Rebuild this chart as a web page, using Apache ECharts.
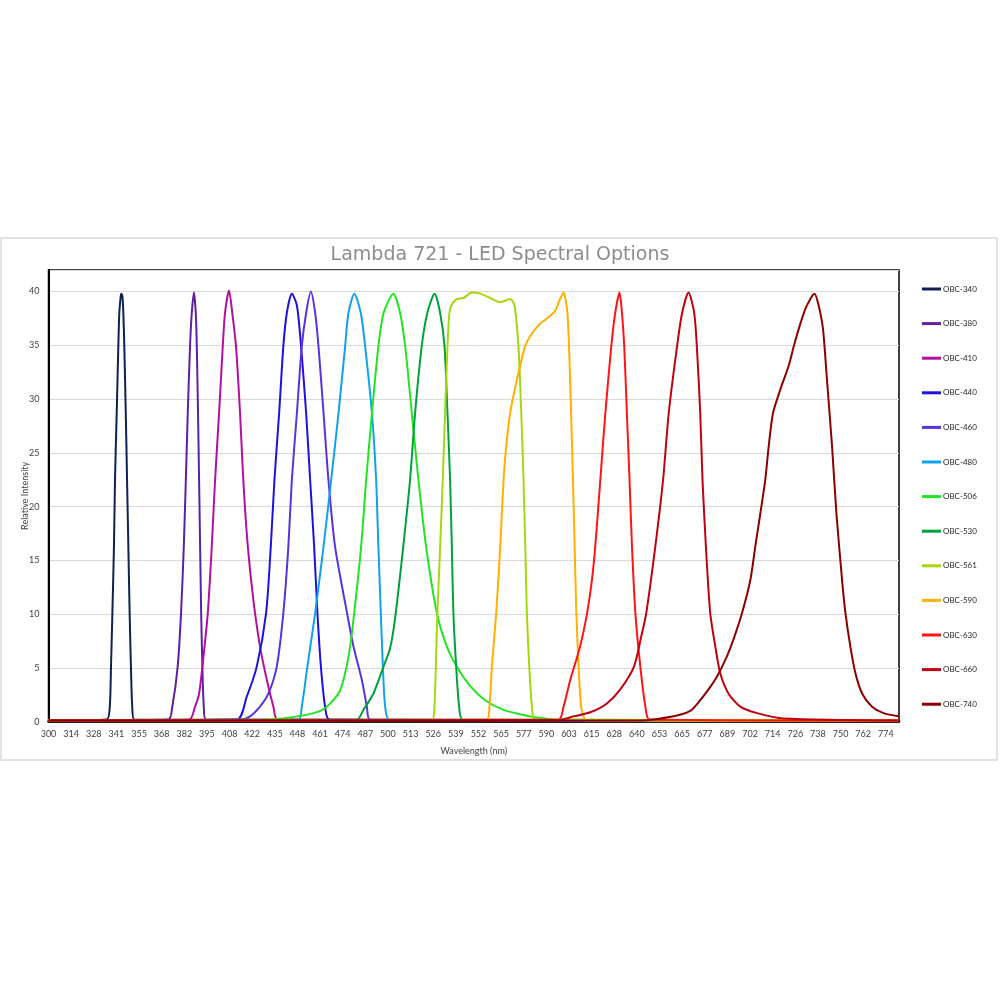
<!DOCTYPE html>
<html>
<head>
<meta charset="utf-8">
<script src="https://cdn.jsdelivr.net/npm/echarts@6/dist/echarts.min.js"></script>
<style>html,body{margin:0;padding:0;background:#fff}#c{width:1000px;height:1000px}</style>
</head>
<body>
<div id="c"></div>
<script>
// Tick labels of the wavelength axis (evenly spaced in the picture)
const tickLabels = [300,314,328,341,355,368,382,395,408,422,435,448,461,474,487,500,513,526,539,552,565,577,590,603,615,628,640,653,665,677,689,702,714,726,738,750,762,774];
const yTicks = [0,5,10,15,20,25,30,35,40];
const seriesNames = ['OBC-340','OBC-380','OBC-410','OBC-440','OBC-460','OBC-480','OBC-506','OBC-530','OBC-561','OBC-590','OBC-630','OBC-660','OBC-740'];
const seriesColors = ['#102050','#5f1f9f','#b0109f','#2010e0','#5a32dc','#0ea2e8','#22e422','#00a03c','#a6d60e','#ffb000','#ff1414','#c00010','#8b0000'];

// [wavelength nm, relative intensity]
const obc340 = [[300,0.1],[335.4,0.2],[337.2,1.4],[337.9,5.1],[338.7,10.1],[339.6,16.3],[340.2,22.5],[341.2,28.7],[342.2,34.9],[342.8,38.0],[343.7,39.6],[344.0,39.8],[344.7,39.6],[345.3,38.0],[345.9,34.9],[346.8,28.7],[347.6,22.5],[348.4,16.3],[349.2,10.1],[350.0,5.1],[350.8,1.4],[352.1,0.2],[781,0.1]];
const obc380 = [[300,0.1],[372.1,0.2],[374.6,1.4],[377.9,5.1],[380.0,10.1],[381.7,16.3],[382.9,22.5],[384.0,28.7],[385.3,34.9],[386.3,38.0],[387.6,39.9],[388.6,38.0],[389.2,34.9],[389.9,28.7],[390.5,22.5],[391.1,16.3],[391.7,10.1],[392.4,5.1],[393.2,1.4],[394.4,0.2],[781,0.1]];
const obc410 = [[300,0.1],[384.8,0.2],[388.2,1.4],[390.5,2.6],[392.4,5.1],[395.5,10.1],[397.8,16.3],[399.7,22.5],[402.0,28.7],[404.1,34.9],[405.4,38.0],[407.7,40.1],[409.7,38.0],[412.0,34.9],[414.5,28.7],[416.5,22.5],[419.3,16.3],[422.7,11.3],[426.5,7.0],[430.4,3.9],[434.2,1.4],[436.7,0.2],[781,0.1]];
const obc440 = [[300,0.1],[412.5,0.2],[418.6,2.3],[424.6,5.1],[430.0,10.1],[432.7,16.3],[434.8,22.5],[437.5,28.7],[439.9,34.9],[441.9,38.0],[444.8,39.8],[447.7,38.7],[450.1,34.9],[453.0,28.7],[455.3,22.5],[457.6,16.3],[459.5,10.1],[461.5,5.1],[463.9,1.4],[466.4,0.2],[781,0.1]];
const obc460 = [[300,0.1],[415,0.2],[420.7,0.5],[426.5,1.4],[431.3,2.6],[436.1,5.1],[439.9,10.1],[442.8,16.3],[444.8,22.5],[447.7,28.7],[450.5,34.9],[453.0,38.0],[455.7,40.0],[458.2,38.0],[460.1,34.9],[463.0,28.7],[465.8,22.5],[469.6,16.3],[476.5,10.1],[480.2,7.0],[485.0,3.9],[487.9,1.4],[489.8,0.2],[781,0.1]];
const obc480 = [[300,0.1],[448.5,0.2],[450.5,1.4],[453.7,5.1],[458.2,10.1],[463.0,16.3],[467.4,22.5],[471.6,28.7],[475.4,34.9],[477.3,38.0],[480.7,39.8],[484.4,38.0],[486.9,34.9],[490.8,28.7],[493.2,22.5],[494.5,16.3],[495.9,10.1],[497.1,5.1],[498.4,1.4],[500.9,0.2],[781,0.1]];
const obc506 = [[300,0.1],[428.1,0.2],[443.8,0.4],[457.2,0.8],[464.9,1.4],[472.5,2.9],[477.3,6.0],[480.2,9.5],[484.6,16.3],[487.5,22.5],[490.8,28.7],[494.5,34.9],[497.5,38.0],[503.1,39.8],[507.0,38.0],[509.9,34.9],[513.7,28.7],[517.5,22.5],[521.9,16.3],[528.1,10.1],[533.8,7.0],[539.6,5.1],[547.3,3.3],[555.8,2.0],[566.3,1.1],[577.5,0.6],[584.6,0.4],[596.1,0.2],[781,0.1]];
const obc530 = [[300,0.1],[482.1,0.2],[485.9,1.1],[491.6,2.6],[497.4,5.1],[501.2,6.8],[504.1,9.6],[508.8,16.3],[512.7,22.5],[515.6,28.7],[519.4,34.9],[522.6,38.0],[526.8,39.8],[530.0,38.0],[532.5,34.9],[534.2,28.7],[535.7,22.5],[536.7,16.3],[537.6,10.1],[539.2,5.1],[540.9,1.4],[543.0,0.2],[781,0.1]];
const obc561 = [[300,0.1],[525.2,0.2],[526.7,1.4],[528.4,10.1],[530.0,16.3],[531.5,22.5],[532.8,28.7],[534.2,34.9],[535.3,38.0],[536.7,38.8],[539.6,39.3],[543.4,39.4],[548.2,39.9],[553.0,39.8],[558.7,39.4],[564.5,39.0],[569.8,39.3],[572.1,38.7],[574.2,34.9],[575.7,28.7],[576.9,22.5],[577.9,16.3],[578.8,10.1],[580.2,5.1],[581.7,1.4],[583.6,0.2],[781,0.1]];
const obc590 = [[300,0.1],[556.8,0.2],[558.3,1.4],[559.7,5.1],[562.2,10.1],[564.5,16.3],[566.3,22.5],[567.7,25.6],[569.8,28.7],[573.4,31.8],[577.8,34.9],[581.7,36.1],[586.5,37.0],[591.2,37.6],[595.0,38.2],[597.9,39.3],[599.8,39.9],[602.1,38.0],[603.6,31.8],[605.1,22.5],[606.0,16.3],[606.9,10.1],[608.1,5.1],[609.4,1.4],[610.7,0.5],[612.0,0.1],[781,0.1]];
const obc630 = [[300,0.1],[597.0,0.2],[599.9,1.4],[603.7,3.9],[608.9,7.0],[612.6,10.1],[615.2,13.2],[617.1,16.3],[620.0,22.5],[622.9,28.7],[626.3,34.9],[628.5,38.0],[630.8,39.9],[632.1,38.0],[633.3,34.9],[634.7,28.7],[636.1,22.5],[637.4,16.3],[639.2,10.1],[642.0,5.1],[644.9,1.4],[647.3,0.2],[781,0.1]];
const obc660 = [[300,0.1],[596.1,0.1],[605.6,0.5],[614.7,0.9],[623.8,1.7],[631.2,3.0],[638.4,5.1],[642.9,8.2],[645.4,10.1],[650.6,16.3],[654.9,22.5],[657.9,28.7],[662.3,34.9],[665.0,38.0],[668.4,39.9],[671.4,38.0],[672.8,34.9],[674.6,28.7],[675.8,22.5],[677.6,16.3],[679.9,10.1],[682.6,7.0],[685.2,4.5],[689.7,2.6],[696.4,1.4],[705.7,0.8],[719.8,0.3],[781,0.1]];
const obc740 = [[300,0.1],[642.0,0.1],[660.5,0.5],[669.3,1.0],[674.6,2.0],[679.0,3.0],[683.5,4.2],[688.8,6.1],[692.6,7.7],[697.4,10.1],[702.2,13.2],[704.8,16.3],[707.5,19.4],[710.1,22.5],[711.9,25.6],[714.2,28.7],[718.1,30.9],[722.5,33.1],[725.2,34.9],[727.8,36.5],[731.4,38.4],[735.0,39.6],[736.2,39.8],[738.4,38.7],[740.7,36.5],[742.8,31.8],[745.5,25.6],[747.8,19.4],[750.8,13.2],[752.6,10.1],[755.2,7.0],[757.9,4.5],[761.5,2.6],[766.7,1.4],[772.8,0.8],[781,0.5]];

const seriesData = [obc340,obc380,obc410,obc440,obc460,obc480,obc506,obc530,obc561,obc590,obc630,obc660,obc740];

// The axis is evenly spaced by tick label: map wavelength to tick position
function wlToIndex(w) {
  const n = tickLabels.length;
  for (let i = 0; i < n - 1; i++) {
    if (w <= tickLabels[i + 1]) return i + (w - tickLabels[i]) / (tickLabels[i + 1] - tickLabels[i]);
  }
  return (n - 1) + (w - tickLabels[n - 1]) / (tickLabels[n - 1] - tickLabels[n - 2]);
}

const FONT = 'Lato';
const chart = echarts.init(document.getElementById('c'));
chart.setOption({
  backgroundColor: '#fff',
  animation: false,
  title: {
    text: 'Lambda 721 - LED Spectral Options',
    left: 'center',
    top: 246,
    padding: [0, 34, 0, 0],
    textStyle: { fontFamily: 'DejaVu Sans', fontSize: 19, fontWeight: 'normal', color: '#8c8c8c' }
  },
  graphic: [{
    type: 'rect', z: -10, silent: true,
    shape: { x: 1, y: 238, width: 996, height: 522 },
    style: { fill: 'none', stroke: '#d9d9d9', lineWidth: 1.5 }
  }],
  legend: {
    orient: 'vertical',
    left: 917,
    top: 279,
    itemWidth: 19,
    itemHeight: 3,
    itemGap: 24.6,
    icon: 'rect',
    data: seriesNames,
    textStyle: { fontFamily: FONT, fontSize: 8, color: '#262626', lineHeight: 10, padding: [0, 0, 0, -3] }
  },
  grid: {
    left: 48.5, top: 270, right: 101, bottom: 278.3,
    show: true, borderColor: '#000', borderWidth: 1.5, containLabel: false
  },
  xAxis: {
    type: 'value',
    min: 0,
    max: wlToIndex(781),
    interval: 1,
    name: 'Wavelength (nm)',
    nameLocation: 'middle',
    nameGap: 25,
    nameMoveOverlap: false,
    nameTextStyle: { fontFamily: FONT, fontSize: 9, color: '#404040' },
    axisLine: { show: true, onZero: false, lineStyle: { color: '#000', width: 2.5 } },
    axisTick: { show: false },
    splitLine: { show: false },
    axisLabel: {
      fontFamily: FONT, fontSize: 9, color: '#404040', margin: 8,
      showMaxLabel: false,
      formatter: v => {
        const r = Math.round(v);
        return Math.abs(v - r) < 1e-6 && r < tickLabels.length ? String(tickLabels[r]) : '';
      }
    }
  },
  yAxis: {
    type: 'value',
    min: yTicks[0],
    max: 42,
    interval: yTicks[1] - yTicks[0],
    name: 'Relative Intensity',
    nameLocation: 'middle',
    nameGap: 19,
    nameMoveOverlap: false,
    nameTextStyle: { fontFamily: FONT, fontSize: 9, color: '#404040' },
    axisLine: { show: true, lineStyle: { color: '#000', width: 2 } },
    axisTick: { show: false },
    axisLabel: { fontFamily: FONT, fontSize: 9, color: '#404040', margin: 9, showMaxLabel: false },
    splitLine: { show: true, lineStyle: { color: '#d9d9d9', width: 1 } }
  },
  series: seriesNames.map((name, k) => ({
    name,
    type: 'line',
    showSymbol: false,
    symbol: 'none',
    smooth: 0.25,
    color: seriesColors[k],
    lineStyle: { width: 2, color: seriesColors[k] },
    data: seriesData[k].map(p => [wlToIndex(p[0]), p[1]])
  }))
});
</script>
</body>
</html>
